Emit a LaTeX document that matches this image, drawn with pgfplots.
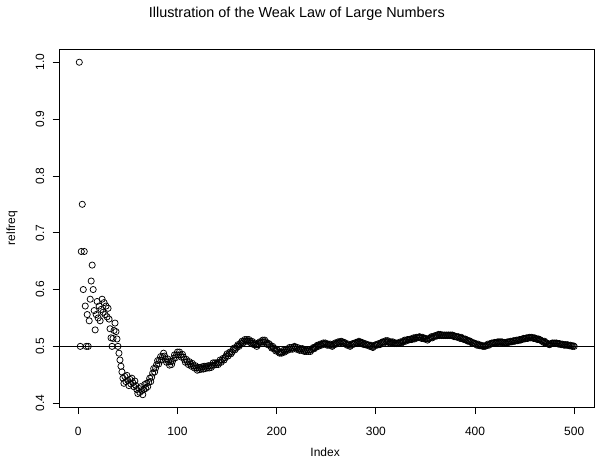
\documentclass[border=0pt]{standalone}
\usepackage{fontspec}
\setmainfont{Liberation Sans}
\usepackage{pgfplots}
\pgfplotsset{compat=1.18}
\begin{document}
\begin{tikzpicture}
\useasboundingbox (0,0) rectangle (595pt,464pt);
\begin{axis}[
  at={(59.5pt,57pt)}, anchor=south west,
  scale only axis, width=534.5pt, height=358pt,
  xmin=-18.96, xmax=519.96, ymin=0.3933, ymax=1.0233,
  axis line style={line width=0.75pt},
  every tick/.style={black, line width=0.75pt},
  tick align=outside, major tick length=7pt,
  xtick pos=bottom, ytick pos=left,
  xtick={0,100,200,300,400,500},
  xticklabels={0,100,200,300,400,500},
  ytick={0.4,0.5,0.6,0.7,0.8,0.9,1.0},
  yticklabels={0.4,0.5,0.6,0.7,0.8,0.9,1.0},
  tick label style={font=\fontsize{12}{14}\selectfont},
  xticklabel style={anchor=north, inner sep=0pt},
  xticklabel shift=13pt,
  yticklabel style={rotate=90, anchor=south, inner sep=0pt},
  yticklabel shift=8pt,
  every axis title shift=0pt,
  title={Illustration of the Weak Law of Large Numbers},
  title style={at={(axis description cs:0.444,1.098)}, anchor=center, yshift=0pt, inner sep=0pt, font=\fontsize{14.4}{17}\selectfont},
  xlabel={Index},
  xlabel style={at={(axis description cs:0.497,-0.1257)}, anchor=center, inner sep=0pt, font=\fontsize{12}{14}\selectfont},
  ylabel={relfreq},
  ylabel style={at={(axis description cs:-0.0889,0.5)}, anchor=center, inner sep=0pt, rotate=0, font=\fontsize{12}{14}\selectfont},
  clip=true,
]
\addplot[black, line width=0.75pt, forget plot] coordinates {(-18.96,0.5) (519.96,0.5)};
\addplot[only marks, mark=o, mark size=3.1pt, mark options={line width=0.75pt, black}] coordinates {
(1,1.000) (2,0.500) (3,0.667) (4,0.750) (5,0.600) (6,0.667) (7,0.571) (8,0.500) (9,0.556) (10,0.500)
(11,0.545) (12,0.583) (13,0.615) (14,0.643) (15,0.600) (16,0.563) (17,0.529) (18,0.556) (19,0.579) (20,0.550)
(21,0.571) (22,0.545) (23,0.565) (24,0.583) (25,0.560) (26,0.577) (27,0.556) (28,0.571) (29,0.552) (30,0.567)
(31,0.548) (32,0.531) (33,0.515) (34,0.500) (35,0.514) (36,0.528) (37,0.541) (38,0.526) (39,0.513) (40,0.500)
(41,0.488) (42,0.476) (43,0.465) (44,0.455) (45,0.444) (46,0.435) (47,0.447) (48,0.438) (49,0.449) (50,0.440)
(51,0.431) (52,0.442) (53,0.434) (54,0.444) (55,0.436) (56,0.429) (57,0.439) (58,0.431) (59,0.424) (60,0.417)
(61,0.426) (62,0.419) (63,0.429) (64,0.422) (65,0.415) (66,0.424) (67,0.433) (68,0.426) (69,0.435) (70,0.429)
(71,0.437) (72,0.444) (73,0.438) (74,0.446) (75,0.453) (76,0.461) (77,0.455) (78,0.462) (79,0.468) (80,0.475)
(81,0.469) (82,0.476) (83,0.482) (84,0.476) (85,0.482) (86,0.488) (87,0.483) (88,0.477) (89,0.472) (90,0.478)
(91,0.473) (92,0.467) (93,0.473) (94,0.468) (95,0.474) (96,0.479) (97,0.485) (98,0.480) (99,0.485) (100,0.490)
(101,0.485) (102,0.490) (103,0.485) (104,0.481) (105,0.486) (106,0.481) (107,0.477) (108,0.472) (109,0.477) (110,0.473)
(111,0.468) (112,0.473) (113,0.469) (114,0.465) (115,0.470) (116,0.466) (117,0.462) (118,0.466) (119,0.462) (120,0.458)
(121,0.463) (122,0.459) (123,0.463) (124,0.460) (125,0.464) (126,0.460) (127,0.465) (128,0.461) (129,0.465) (130,0.462)
(131,0.466) (132,0.462) (133,0.466) (134,0.463) (135,0.467) (136,0.471) (137,0.467) (138,0.471) (139,0.468) (140,0.471)
(141,0.468) (142,0.472) (143,0.476) (144,0.472) (145,0.476) (146,0.479) (147,0.476) (148,0.480) (149,0.483) (150,0.487)
(151,0.483) (152,0.487) (153,0.490) (154,0.487) (155,0.490) (156,0.494) (157,0.497) (158,0.494) (159,0.497) (160,0.500)
(161,0.503) (162,0.500) (163,0.503) (164,0.506) (165,0.509) (166,0.506) (167,0.509) (168,0.512) (169,0.509) (170,0.512)
(171,0.509) (172,0.512) (173,0.509) (174,0.506) (175,0.509) (176,0.506) (177,0.503) (178,0.506) (179,0.503) (180,0.500)
(181,0.503) (182,0.505) (183,0.508) (184,0.505) (185,0.508) (186,0.511) (187,0.508) (188,0.511) (189,0.508) (190,0.505)
(191,0.503) (192,0.505) (193,0.503) (194,0.500) (195,0.497) (196,0.500) (197,0.497) (198,0.495) (199,0.492) (200,0.495)
(201,0.493) (202,0.490) (203,0.488) (204,0.490) (205,0.488) (206,0.490) (207,0.493) (208,0.490) (209,0.493) (210,0.495)
(211,0.493) (212,0.495) (213,0.498) (214,0.495) (215,0.498) (216,0.495) (217,0.498) (218,0.500) (219,0.498) (220,0.495)
(221,0.498) (222,0.495) (223,0.493) (224,0.496) (225,0.493) (226,0.496) (227,0.493) (228,0.491) (229,0.493) (230,0.491)
(231,0.494) (232,0.491) (233,0.494) (234,0.491) (235,0.494) (236,0.496) (237,0.498) (238,0.496) (239,0.498) (240,0.500)
(241,0.502) (242,0.500) (243,0.502) (244,0.504) (245,0.502) (246,0.504) (247,0.506) (248,0.504) (249,0.506) (250,0.504)
(251,0.502) (252,0.504) (253,0.502) (254,0.504) (255,0.502) (256,0.500) (257,0.502) (258,0.504) (259,0.506) (260,0.504)
(261,0.506) (262,0.508) (263,0.506) (264,0.508) (265,0.509) (266,0.508) (267,0.506) (268,0.507) (269,0.506) (270,0.504)
(271,0.502) (272,0.504) (273,0.502) (274,0.500) (275,0.502) (276,0.504) (277,0.505) (278,0.504) (279,0.505) (280,0.507)
(281,0.505) (282,0.507) (283,0.509) (284,0.507) (285,0.505) (286,0.507) (287,0.505) (288,0.503) (289,0.505) (290,0.503)
(291,0.502) (292,0.503) (293,0.502) (294,0.500) (295,0.502) (296,0.500) (297,0.498) (298,0.500) (299,0.502) (300,0.503)
(301,0.502) (302,0.503) (303,0.505) (304,0.503) (305,0.505) (306,0.507) (307,0.508) (308,0.506) (309,0.508) (310,0.510)
(311,0.508) (312,0.510) (313,0.508) (314,0.506) (315,0.508) (316,0.506) (317,0.508) (318,0.506) (319,0.505) (320,0.506)
(321,0.505) (322,0.506) (323,0.505) (324,0.506) (325,0.508) (326,0.506) (327,0.508) (328,0.509) (329,0.511) (330,0.509)
(331,0.511) (332,0.512) (333,0.511) (334,0.512) (335,0.513) (336,0.512) (337,0.513) (338,0.515) (339,0.513) (340,0.515)
(341,0.516) (342,0.515) (343,0.516) (344,0.517) (345,0.516) (346,0.514) (347,0.516) (348,0.514) (349,0.513) (350,0.514)
(351,0.513) (352,0.511) (353,0.513) (354,0.514) (355,0.515) (356,0.517) (357,0.515) (358,0.517) (359,0.518) (360,0.519)
(361,0.518) (362,0.519) (363,0.521) (364,0.519) (365,0.521) (366,0.519) (367,0.520) (368,0.519) (369,0.520) (370,0.519)
(371,0.520) (372,0.519) (373,0.520) (374,0.519) (375,0.520) (376,0.519) (377,0.520) (378,0.519) (379,0.517) (380,0.518)
(381,0.517) (382,0.516) (383,0.517) (384,0.516) (385,0.514) (386,0.516) (387,0.514) (388,0.513) (389,0.512) (390,0.513)
(391,0.512) (392,0.510) (393,0.509) (394,0.510) (395,0.509) (396,0.508) (397,0.506) (398,0.505) (399,0.506) (400,0.505)
(401,0.504) (402,0.502) (403,0.504) (404,0.502) (405,0.501) (406,0.502) (407,0.501) (408,0.500) (409,0.501) (410,0.500)
(411,0.501) (412,0.502) (413,0.504) (414,0.502) (415,0.504) (416,0.505) (417,0.506) (418,0.505) (419,0.506) (420,0.507)
(421,0.506) (422,0.507) (423,0.508) (424,0.507) (425,0.508) (426,0.507) (427,0.508) (428,0.507) (429,0.506) (430,0.507)
(431,0.506) (432,0.507) (433,0.508) (434,0.507) (435,0.508) (436,0.509) (437,0.508) (438,0.509) (439,0.510) (440,0.509)
(441,0.510) (442,0.511) (443,0.510) (444,0.511) (445,0.512) (446,0.511) (447,0.512) (448,0.513) (449,0.514) (450,0.513)
(451,0.514) (452,0.515) (453,0.514) (454,0.515) (455,0.516) (456,0.515) (457,0.516) (458,0.515) (459,0.514) (460,0.515)
(461,0.514) (462,0.513) (463,0.512) (464,0.513) (465,0.512) (466,0.511) (467,0.510) (468,0.509) (469,0.507) (470,0.509)
(471,0.507) (472,0.506) (473,0.505) (474,0.504) (475,0.503) (476,0.504) (477,0.505) (478,0.506) (479,0.505) (480,0.506)
(481,0.505) (482,0.506) (483,0.505) (484,0.504) (485,0.505) (486,0.504) (487,0.503) (488,0.504) (489,0.503) (490,0.502)
(491,0.503) (492,0.502) (493,0.503) (494,0.502) (495,0.501) (496,0.502) (497,0.501) (498,0.500) (499,0.501) (500,0.500)
};
\end{axis}
\end{tikzpicture}
\end{document}
